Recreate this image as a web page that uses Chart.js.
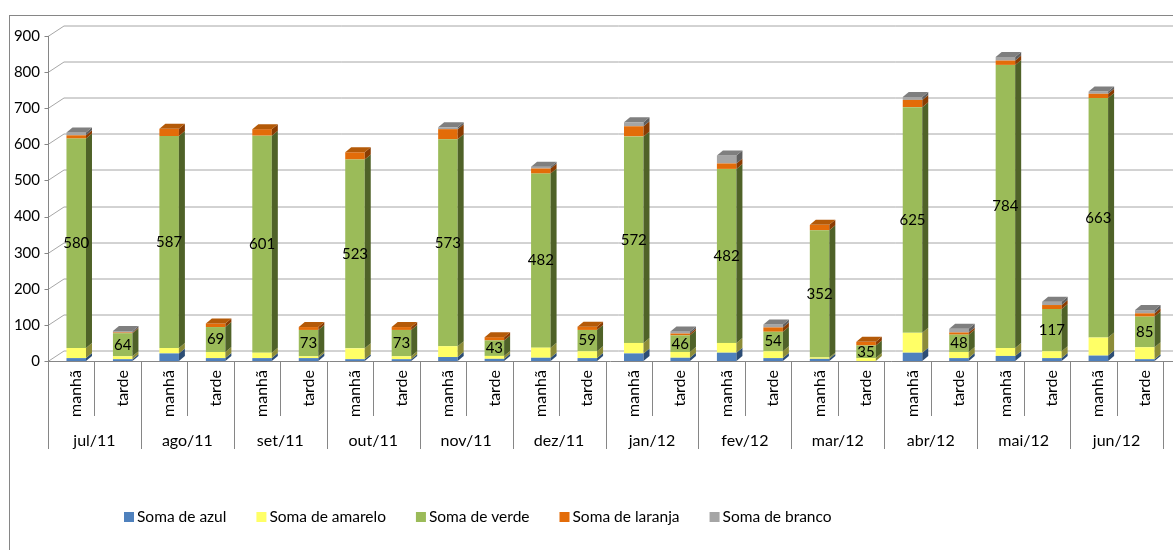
<!DOCTYPE html>
<html lang="pt">
<head>
    <meta charset="UTF-8">
    <title>Soma por turno</title>
    <script src="https://cdn.jsdelivr.net/npm/chart.js"></script>
    <style>
        html, body { margin: 0; padding: 0; background: #fff; }
        #grafico { display: block; }
    </style>
</head>
<body>
    <canvas id="grafico" width="1173" height="550"></canvas>

    <script>
        // Dados (manhã / tarde para cada mês)
        const meses = ['jul/11', 'ago/11', 'set/11', 'out/11', 'nov/11', 'dez/11',
                       'jan/12', 'fev/12', 'mar/12', 'abr/12', 'mai/12', 'jun/12'];
        const turnos = ['manhã', 'tarde'];
        const yTicks = [0, 100, 200, 300, 400, 500, 600, 700, 800, 900];

        const azul    = [8, 5, 21, 8, 8, 8, 5, 5, 11, 6, 9, 8, 21, 9, 23, 8, 6, 0, 23, 8, 14, 8, 15, 5];
        const amarelo = [28, 8, 15, 17, 15, 5, 30, 8, 30, 8, 28, 19, 29, 16, 27, 19, 4, 8, 55, 17, 22, 19, 50, 33];
        const verde   = [580, 64, 587, 69, 601, 73, 523, 73, 573, 43, 482, 59, 572, 46, 482, 54, 352, 35, 625, 48, 784, 117, 663, 85];
        const laranja = [9, 2, 20, 10, 18, 8, 20, 8, 28, 9, 14, 9, 28, 5, 15, 12, 15, 10, 20, 6, 12, 11, 12, 9];
        const branco  = [8, 4, 0, 0, 0, 0, 0, 0, 5, 0, 5, 0, 11, 6, 22, 8, 0, 0, 8, 10, 10, 9, 6, 9];

        const rotulos = [];
        meses.forEach(() => turnos.forEach(t => rotulos.push(t)));

        const FONTE = 'Lato, "DejaVu Sans", sans-serif';
        const dx = 6, dy = 5;           // profundidade 3D
        const desloc = 5;               // eixos ficam um pouco à esquerda das barras
        const corGrade = '#a6a6a6';
        const corEixo = '#868686';

        // frente, lateral, topo
        const cores = [
            ['#4f81bd', '#2c4d75', '#3a6294'],
            ['#ffff66', '#8c8c38', '#c8c848'],
            ['#9bbb59', '#4f6228', '#76923c'],
            ['#e36c09', '#8a3c02', '#b45a08'],
            ['#a5a5a5', '#5f5f5f', '#7f7f7f']
        ];

        // Paredes, grade e eixos (atrás das barras)
        const fundo3d = {
            id: 'fundo3d',
            beforeDraw(chart) {
                const ctx = chart.ctx;
                ctx.save();
                ctx.strokeStyle = corEixo;
                ctx.lineWidth = 1;
                ctx.strokeRect(9.5, 15.5, 1200, 600);
                ctx.restore();
            },
            beforeDatasetsDraw(chart) {
                const ctx = chart.ctx;
                const y = chart.scales.y;
                const x0 = chart.chartArea.left - desloc;
                const x1 = chart.width;
                ctx.save();
                ctx.lineWidth = 1;
                ctx.strokeStyle = corGrade;
                yTicks.forEach(v => {
                    const py = Math.round(y.getPixelForValue(v)) + 0.5;
                    ctx.beginPath();
                    ctx.moveTo(x0, py);
                    ctx.lineTo(x0 + 16, py - 10.5);
                    ctx.lineTo(x1, py - 10.5);
                    ctx.stroke();
                });
                // eixo vertical e marcas
                ctx.strokeStyle = corEixo;
                const ax = Math.round(x0) + 0.5;
                ctx.beginPath();
                ctx.moveTo(ax, y.getPixelForValue(900));
                ctx.lineTo(ax, y.getPixelForValue(0));
                yTicks.forEach(v => {
                    const py = Math.round(y.getPixelForValue(v)) + 0.5;
                    ctx.moveTo(ax - 4, py);
                    ctx.lineTo(ax, py);
                });
                ctx.stroke();
                ctx.restore();
            },
            afterDatasetsDraw(chart) {
                const ctx = chart.ctx;
                const n = chart.data.labels.length;
                const sets = chart.data.datasets;
                ctx.save();
                for (let i = 0; i < n; i++) {
                    let topo = -1;
                    sets.forEach((ds, d) => { if (ds.data[i] > 0) topo = d; });
                    sets.forEach((ds, d) => {
                        if (!(ds.data[i] > 0)) return;
                        const el = chart.getDatasetMeta(d).data[i];
                        const esq = el.x - el.width / 2;
                        const dir = el.x + el.width / 2;
                        const cima = el.y, baixo = el.base;
                        ctx.fillStyle = cores[d][1];
                        ctx.beginPath();
                        ctx.moveTo(dir, cima);
                        ctx.lineTo(dir + dx, cima - dy);
                        ctx.lineTo(dir + dx, baixo - dy);
                        ctx.lineTo(dir, baixo);
                        ctx.closePath();
                        ctx.fill();
                        if (d === topo) {
                            ctx.fillStyle = cores[d][2];
                            ctx.beginPath();
                            ctx.moveTo(esq, cima);
                            ctx.lineTo(esq + dx, cima - dy);
                            ctx.lineTo(dir + dx, cima - dy);
                            ctx.lineTo(dir, cima);
                            ctx.closePath();
                            ctx.fill();
                        }
                    });
                    // rótulo do verde
                    const ev = chart.getDatasetMeta(2).data[i];
                    ctx.fillStyle = '#000';
                    ctx.font = '15px ' + FONTE;
                    ctx.textAlign = 'center';
                    ctx.textBaseline = 'middle';
                    ctx.fillText(String(verde[i]), ev.x, (ev.y + ev.base) / 2);
                }
                ctx.restore();
            },
            afterDraw(chart) {
                const ctx = chart.ctx;
                const xs = chart.scales.x;
                const base = Math.round(chart.scales.y.getPixelForValue(0)) + 0.5;
                const passo = (xs.right - xs.left) / rotulos.length;
                ctx.save();
                ctx.strokeStyle = corEixo;
                ctx.lineWidth = 1;
                // linha do eixo x
                ctx.beginPath();
                ctx.moveTo(xs.left - desloc, base);
                ctx.lineTo(chart.width, base);
                for (let k = 0; k <= rotulos.length; k++) {
                    const px = Math.round(xs.left + k * passo - desloc) + 0.5;
                    ctx.moveTo(px, base);
                    ctx.lineTo(px, k % 2 === 0 ? 449 : 416);
                }
                ctx.stroke();

                // meses
                ctx.fillStyle = '#000';
                ctx.font = '16px ' + FONTE;
                ctx.textAlign = 'center';
                ctx.textBaseline = 'middle';
                meses.forEach((m, k) => {
                    ctx.fillText(m, xs.left + (2 * k + 1) * passo - desloc, 441);
                });

                // legenda
                let lx = 124;
                const ly = 517;
                ctx.font = '15.5px ' + FONTE;
                chart.data.datasets.forEach((ds, d) => {
                    ctx.fillStyle = cores[d][0];
                    ctx.fillRect(lx, ly - 5, 10, 10);
                    ctx.fillStyle = '#000';
                    ctx.textAlign = 'left';
                    ctx.fillText(ds.label, lx + 13, ly);
                    lx += 13 + ctx.measureText(ds.label).width + 30;
                });
                ctx.restore();
            }
        };

        const series = [
            ['Soma de azul', azul],
            ['Soma de amarelo', amarelo],
            ['Soma de verde', verde],
            ['Soma de laranja', laranja],
            ['Soma de branco', branco]
        ];

        new Chart(document.getElementById('grafico'), {
            type: 'bar',
            data: {
                labels: rotulos,
                datasets: series.map((s, d) => ({
                    label: s[0],
                    data: s[1],
                    backgroundColor: cores[d][0],
                    borderWidth: 0,
                    barPercentage: 0.42,
                    categoryPercentage: 1
                }))
            },
            options: {
                responsive: false,
                animation: false,
                layout: { padding: { top: 36, left: 0, right: 0, bottom: 0 } },
                plugins: {
                    legend: { display: false },
                    tooltip: { enabled: false }
                },
                scales: {
                    x: {
                        stacked: true,
                        grid: { display: false, drawTicks: false },
                        border: { display: false },
                        ticks: {
                            autoSkip: false,
                            minRotation: 90,
                            maxRotation: 90,
                            padding: 9,
                            color: '#000',
                            font: { family: FONTE, size: 16 }
                        },
                        afterFit(s) { s.height = 189; }
                    },
                    y: {
                        stacked: true,
                        min: 0,
                        max: 900,
                        afterBuildTicks(s) { s.ticks = yTicks.map(v => ({ value: v })); },
                        grid: { display: false, drawTicks: false },
                        border: { display: false },
                        ticks: {
                            padding: 13,
                            color: '#000',
                            font: { family: FONTE, size: 15 }
                        },
                        afterFit(s) { s.width = 53; }
                    }
                }
            },
            plugins: [fundo3d]
        });
    </script>
</body>
</html>
